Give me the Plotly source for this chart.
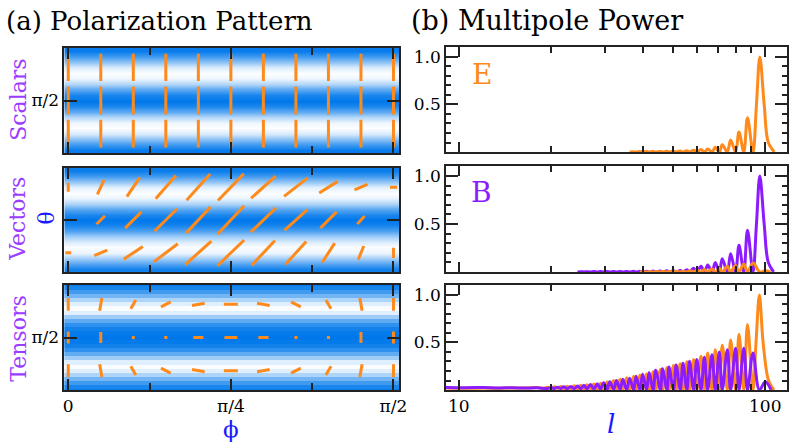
import plotly.graph_objects as go

W, H = 796, 444
FONT = "DejaVu Serif"
ORANGE = "#ff8a1c"
PURPLE = "#8c1cff"
LABEL_PURPLE = "#9b3dff"
BLUE = "#1a1aff"
FRAME = "#222222"

# ---------------- (a) polarization pattern ----------------
# grid of sticks: phi (deg) columns, theta (deg) rows (top -> bottom)
phi_cols = [0, 9, 18, 27, 36, 45, 54, 63, 72, 81, 90]
theta_rows = [78, 90, 102]

# stick amplitude (1 = longest stick) and orientation (deg from horizontal)
scalar_amp = [[0.70, 0.70, 0.70, 0.70, 0.70, 0.70, 0.70, 0.70, 0.70, 0.70, 0.70],
              [0.72, 0.72, 0.72, 0.72, 0.72, 0.72, 0.72, 0.72, 0.72, 0.72, 0.72],
              [0.71, 0.71, 0.71, 0.71, 0.71, 0.71, 0.71, 0.71, 0.71, 0.71, 0.71]]
scalar_ang = [[90, 90, 90, 90, 90, 90, 90, 90, 90, 90, 90],
              [90, 90, 90, 90, 90, 90, 90, 90, 90, 90, 90],
              [90, 90, 90, 90, 90, 90, 90, 90, 90, 90, 90]]

vector_amp = [[0.23, 0.41, 0.59, 0.79, 0.90, 0.95, 0.85, 0.77, 0.56, 0.36, 0.18],
              [0.00, 0.31, 0.59, 0.82, 0.92, 1.00, 0.90, 0.79, 0.59, 0.28, 0.00],
              [0.15, 0.36, 0.59, 0.77, 0.90, 0.95, 0.87, 0.79, 0.59, 0.38, 0.26]]
vector_ang = [[90, 65, 56, 49, 48, 46, 42, 38, 32, 23, 0],
              [45, 45, 45, 45, 47, 47, 44, 42, 45, 47, 45],
              [0, 23, 34, 37, 42, 44, 47, 48, 57, 68, 90]]

tensor_amp = [[0.33, 0.33, 0.26, 0.28, 0.33, 0.36, 0.33, 0.28, 0.26, 0.33, 0.33],
              [0.31, 0.28, 0.08, 0.08, 0.26, 0.33, 0.26, 0.08, 0.08, 0.28, 0.31],
              [0.33, 0.33, 0.26, 0.28, 0.33, 0.36, 0.33, 0.28, 0.26, 0.33, 0.33]]
tensor_ang = [[90, 80, 60, 27, 10, 0, -10, -27, -60, -80, 90],
              [90, 90, 90, 0, 0, 0, 0, 0, 90, 90, 90],
              [90, -80, -60, -27, -10, 0, 10, 27, 60, 80, 90]]

# background intensity (0 = white, 1 = blue) against theta
theta_bg = [70, 72, 74, 76, 78, 80, 82, 84, 86, 88, 90,
            92, 94, 96, 98, 100, 102, 104, 106, 108, 110]
scalar_bg = [0.97, 0.97, 0.77, 0.45, 0.16, 0.01, 0.06, 0.30, 0.62, 0.90, 1.00,
             0.90, 0.62, 0.30, 0.06, 0.01, 0.16, 0.45, 0.77, 0.97, 0.97]
vector_bg = [0.97, 0.95, 0.75, 0.42, 0.12, 0.01, 0.08, 0.33, 0.64, 0.90, 1.00,
             0.92, 0.70, 0.40, 0.14, 0.02, 0.08, 0.35, 0.68, 0.92, 0.97]
theta_bg_t = [70.5, 72, 73.5, 75, 76.5, 78, 79.5, 81, 82.5, 84, 85.5, 87, 88.5, 90,
              91.5, 93, 94.5, 96, 97.5, 99, 100.5, 102, 103.5, 105, 106.5, 108, 109.5]
tensor_bg = [0.97, 0.90, 0.75, 0.55, 0.32, 0.12, 0.02, 0.12, 0.38, 0.62, 0.82, 0.93, 0.98, 1.00,
             0.98, 0.93, 0.82, 0.62, 0.38, 0.12, 0.02, 0.12, 0.32, 0.55, 0.75, 0.90, 0.97]

# ---------------- (b) multipole power ----------------
E_l = [36.1, 37.2, 37.9, 39.0, 39.8, 41.0, 41.8, 43.1, 43.9, 45.5,
       46.2, 47.8, 48.5, 50.2, 51.2, 52.8, 53.9, 55.5, 56.6, 58.4,
       59.8, 61.7, 63.3, 64.9, 67.0, 68.7, 70.8, 72.4, 75.2, 77.1,
       80.0, 82.1, 85.1, 87.5, 91.2, 93.6, 96.0, 99.2, 102.3, 107.0]
E_pow = [0, 0.003, 0, 0.004, 0, 0.004, 0, 0.005, 0, 0.006,
         0, 0.007, 0, 0.009, 0, 0.011, 0, 0.014, 0, 0.019,
         0, 0.025, 0, 0.032, 0, 0.05, 0, 0.077, 0, 0.127,
         0, 0.21, 0, 0.36, 0, 0.5, 1.0, 0.5, 0.1, 0]

# vector source: B (purple) and E (orange)
VB_l = [24.4, 25.0, 25.6, 26.2, 26.9, 27.6, 28.3, 29.0, 29.7, 30.5,
        31.1, 32.0, 32.7, 33.6, 34.3, 35.3, 36.1, 37.2, 37.9, 39.0,
        39.8, 41.0, 41.8, 43.1, 43.9, 45.5, 46.2, 47.8, 48.5, 50.2,
        51.2, 52.8, 53.9, 55.5, 56.6, 58.4, 59.8, 61.7, 63.3, 64.9,
        67.0, 68.7, 70.8, 72.4, 75.2, 77.1, 80.0, 82.1, 85.1, 87.5,
        91.2, 93.6, 96.0, 99.2, 102.3, 106.5]
VB_pow = [0, 0.003, 0, 0.003, 0, 0.004, 0, 0.004, 0, 0.005,
          0, 0.005, 0, 0.006, 0, 0.006, 0, 0.007, 0, 0.008,
          0, 0.009, 0, 0.01, 0, 0.011, 0, 0.012, 0, 0.014,
          0, 0.016, 0, 0.024, 0, 0.038, 0, 0.06, 0, 0.074,
          0, 0.10, 0, 0.137, 0, 0.19, 0, 0.278, 0, 0.436,
          0, 0.5, 1.0, 0.5, 0.1, 0]
VE_l = [39.0, 39.8, 41.0, 41.8, 43.1, 43.9, 45.5, 46.2, 47.8, 48.5,
        50.2, 51.2, 52.8, 53.9, 55.5, 56.6, 58.4, 59.8, 61.7, 63.3,
        64.9, 67.0, 68.7, 70.8, 72.4, 75.2, 77.1, 80.0, 82.1, 85.1,
        87.5, 91.2, 96.0, 100.0, 104.0]
VE_pow = [0, 0.002, 0, 0.003, 0, 0.003, 0, 0.004, 0, 0.005,
          0, 0.007, 0, 0.009, 0, 0.012, 0, 0.018, 0, 0.025,
          0, 0.03, 0, 0.038, 0, 0.06, 0, 0.067, 0, 0.084,
          0, 0.095, 0, 0.012, 0]

# tensor source: E (orange) and B (purple)
TE_l = [9.0, 10.5, 12.0, 13.5, 15.0, 16.5, 18.0, 19.0, 19.5, 20.0,
        20.5, 21.0, 21.5, 22.0, 22.6, 23.2, 23.8, 24.4, 25.0, 25.6,
        26.2, 26.9, 27.6, 28.3, 29.0, 29.7, 30.5, 31.1, 32.0, 32.7,
        33.6, 34.3, 35.3, 36.1, 37.2, 37.9, 39.0, 39.8, 41.0, 41.8,
        43.1, 43.9, 45.5, 46.2, 47.8, 48.5, 50.2, 51.2, 52.8, 53.9,
        55.5, 56.6, 58.4, 59.8, 61.7, 63.3, 64.9, 67.0, 68.7, 70.8,
        72.4, 75.2, 77.1, 80.0, 82.1, 85.1, 87.5, 91.2, 93.3, 95.7,
        98.4, 102.5, 106.7]
TE_pow = [0.02, 0.018, 0.02, 0.018, 0.022, 0.02, 0.025, 0.018, 0.03, 0.016,
          0.033, 0.016, 0.036, 0.015, 0.04, 0.014, 0.045, 0.013, 0.05, 0.012,
          0.056, 0.011, 0.063, 0.01, 0.072, 0.01, 0.085, 0.008, 0.1, 0.006,
          0.114, 0.004, 0.13, 0.002, 0.145, 0, 0.158, 0, 0.172, 0,
          0.193, 0, 0.217, 0, 0.235, 0, 0.258, 0, 0.276, 0,
          0.297, 0, 0.32, 0, 0.355, 0, 0.39, 0, 0.424, 0,
          0.47, 0, 0.527, 0, 0.586, 0, 0.69, 0, 0.5, 1.0,
          0.5, 0.1, 0]
TB_l = [9.0, 10.5, 12.0, 13.5, 15.0, 16.5, 18.0, 19.5, 20.0, 20.5,
        21.0, 21.5, 22.0, 22.6, 23.2, 23.8, 24.4, 25.0, 25.6, 26.2,
        26.9, 27.6, 28.3, 29.0, 29.7, 30.5, 31.1, 32.0, 32.7, 33.6,
        34.3, 35.3, 36.1, 37.2, 37.9, 39.0, 39.8, 41.0, 41.8, 43.1,
        43.9, 45.5, 46.2, 47.8, 48.5, 50.2, 51.2, 52.8, 53.9, 55.5,
        56.6, 58.4, 59.8, 61.7, 63.3, 64.9, 67.0, 68.7, 70.8, 72.4,
        75.2, 77.1, 80.0, 82.1, 85.1, 87.5, 91.2, 95.7, 100.0, 104.5]
TB_pow = [0.026, 0.024, 0.026, 0.022, 0.024, 0.02, 0.024, 0.016, 0.026, 0.016,
          0.03, 0.015, 0.034, 0.014, 0.038, 0.013, 0.043, 0.012, 0.05, 0.011,
          0.057, 0.01, 0.066, 0.01, 0.076, 0.008, 0.088, 0.006, 0.1, 0.004,
          0.112, 0.002, 0.124, 0, 0.145, 0, 0.165, 0, 0.183, 0,
          0.207, 0, 0.224, 0, 0.241, 0, 0.262, 0, 0.282, 0,
          0.303, 0, 0.32, 0, 0.345, 0, 0.372, 0, 0.40, 0,
          0.424, 0, 0.44, 0, 0.44, 0, 0.39, 0, 0.086, 0]

STICK_PX = 39 / 1.4  # plotly draws line-ns at 1.4x the marker size
BG_SCALE = [[0, "#ffffff"], [1, "rgb(0,120,235)"]]


def dom_x(a, b):
    return [a / W, b / W]


def dom_y(top, bottom):
    return [1 - bottom / H, 1 - top / H]


def background(theta, vals, xa, ya, smooth):
    return go.Heatmap(x=[-5, 95], y=theta, z=[[v, v] for v in vals],
                      colorscale=BG_SCALE, zmin=0, zmax=1, showscale=False,
                      zsmooth=smooth, hoverinfo="skip", xaxis=xa, yaxis=ya)


def sticks(amp, ang, xa, ya):
    xs, ys, sz, rot = [], [], [], []
    for i, th in enumerate(theta_rows):
        for j, ph in enumerate(phi_cols):
            if amp[i][j] <= 0:
                continue
            xs.append(ph)
            ys.append(th)
            sz.append(amp[i][j] * STICK_PX)
            rot.append(90 - ang[i][j])
    return go.Scatter(x=xs, y=ys, mode="markers", hoverinfo="skip",
                      marker=dict(symbol="line-ns", size=sz, angle=rot, color=ORANGE,
                                  opacity=1, line=dict(color=ORANGE, width=3)),
                      xaxis=xa, yaxis=ya)


def curve(l, p, color, xa, ya):
    return go.Scatter(x=l, y=p, mode="lines", hoverinfo="skip",
                      line=dict(color=color, width=3, shape="spline", smoothing=1),
                      xaxis=xa, yaxis=ya)


traces = [
    background(theta_bg, scalar_bg, "x", "y", "best"),
    sticks(scalar_amp, scalar_ang, "x", "y"),
    background(theta_bg, vector_bg, "x3", "y3", "best"),
    sticks(vector_amp, vector_ang, "x3", "y3"),
    background(theta_bg_t, tensor_bg, "x5", "y5", False),
    sticks(tensor_amp, tensor_ang, "x5", "y5"),
    curve(E_l, E_pow, ORANGE, "x2", "y2"),
    curve(VB_l, VB_pow, PURPLE, "x4", "y4"),
    curve(VE_l, VE_pow, ORANGE, "x4", "y4"),
    curve(TE_l, TE_pow, ORANGE, "x6", "y6"),
    curve(TB_l, TB_pow, PURPLE, "x6", "y6"),
]

fig = go.Figure(data=traces)


def frame(**kw):
    ax = dict(showline=True, linecolor=FRAME, linewidth=1.5, mirror="allticks",
              ticks="inside", tickcolor=FRAME, tickwidth=1.5, showgrid=False,
              zeroline=False, fixedrange=True,
              tickfont=dict(family=FONT, size=17, color="black"))
    ax.update(kw)
    return ax


def minor(vals, length):
    return dict(tickvals=vals, ticks="inside", ticklen=length,
                tickcolor=FRAME, tickwidth=1.5)


def sx(n):
    return "" if n == 1 else str(n)


left_rows = [(48, 153), (168, 272), (285, 390)]
right_rows = [(47, 152), (166, 272), (285, 390)]
layout_axes = {}
for k in range(3):
    nl, nr = 2 * k + 1, 2 * k + 2
    layout_axes["xaxis" + sx(nl)] = frame(
        domain=dom_x(64, 403), anchor="y" + sx(nl), range=[-1.1, 91.65],
        tickvals=[0, 45, 90], ticktext=["0", "π/4", "π/2"], ticklen=11,
        minor=minor([22.5, 67.5], 7), showticklabels=(k == 2))
    layout_axes["yaxis" + sx(nl)] = frame(
        domain=dom_y(*left_rows[k]), anchor="x" + sx(nl), range=[109, 71],
        tickvals=[90], ticktext=["π/2"], ticklen=13, showticklabels=(k != 1))
    layout_axes["xaxis" + sx(nr)] = frame(
        domain=dom_x(450, 795), anchor="y" + sx(nr), type="log",
        range=[0.958, 2.071], tickvals=[10, 100], ticktext=["10", "100"], ticklen=10,
        minor=minor([20, 30, 40, 50, 60, 70, 80, 90], 6), showticklabels=(k == 2))
    layout_axes["yaxis" + sx(nr)] = frame(
        domain=dom_y(*right_rows[k]), anchor="x" + sx(nr), range=[0, 1.105],
        tickvals=[0.5, 1.0], ticktext=["0.5", "1.0"], ticklen=12,
        minor=minor([0.1, 0.2, 0.3, 0.4, 0.6, 0.7, 0.8, 0.9], 5))


def label(text, x, y, size, color="black", angle=0, anchor="center"):
    return dict(text=text, x=x / W, y=1 - y / H, xref="paper", yref="paper",
                showarrow=False, textangle=angle, xanchor=anchor, yanchor="middle",
                font=dict(family=FONT, size=size, color=color))


annotations = [
    label("(a) Polarization Pattern", 3, 21, 26, anchor="left"),
    label("(b) Multipole Power", 413, 21, 27, anchor="left"),
    label("Scalars", 17, 100, 22, LABEL_PURPLE, -90),
    label("Vectors", 17, 219, 22, LABEL_PURPLE, -90),
    label("θ", 46, 218, 22, BLUE, -90),
    label("Tensors", 17, 338, 22, LABEL_PURPLE, -90),
    label("ϕ", 233, 429, 23, BLUE),
    label("<i>l</i>", 617, 424, 26, BLUE),
    label("E", 486, 75, 28, ORANGE),
    label("B", 486, 192, 28, PURPLE),
]

fig.update_layout(
    width=W, height=H, margin=dict(l=0, r=0, t=0, b=0),
    paper_bgcolor="white", plot_bgcolor="white", showlegend=False,
    font=dict(family=FONT, color="black"),
    annotations=annotations, **layout_axes)

# the page's default body margin would shift the figure by 8px
fig.write_html("out.html", config={"displayModeBar": False},
               post_script="document.body.style.margin = '0';")
